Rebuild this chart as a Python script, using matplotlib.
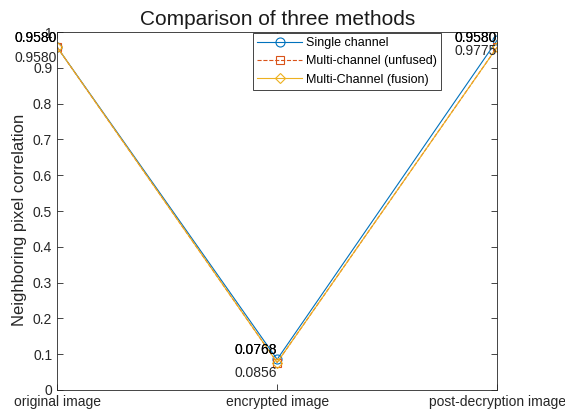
import numpy as np
import matplotlib
matplotlib.use('Agg')
import matplotlib.pyplot as plt

plt.rcParams['font.family'] = ['Liberation Sans', 'DejaVu Sans']

stages = ['original image', 'encrypted image', 'post-decryption image']
single = [0.9580, 0.0856, 0.9775]
multi_unfused = [0.9580, 0.0768, 0.9580]
multi_fusion = [0.9580, 0.0768, 0.9580]

# labels as they appear on the chart (upper one drawn twice, lower once)
upper_labels = ['0.9580', '0.0768', '0.9580']
lower_labels = ['0.9580', '0.0856', '0.9775']

x = np.arange(1, len(stages) + 1)

fig = plt.figure(figsize=(5.65, 4.13), dpi=100)
ax = fig.add_axes([0.101, 0.0557, 0.779, 0.8668])

ax.plot(x, single, '-o', color='#0072BD', lw=0.8, ms=6.5, mfc='none', mew=0.8, label='Single channel')
ax.plot(x, multi_unfused, '--s', color='#D95319', lw=0.8, ms=5.5, mfc='none', mew=0.8, label='Multi-channel (unfused)')
ax.plot(x, multi_fusion, '-D', color='#EDB120', lw=0.8, ms=5.5, mfc='none', mew=0.8, label='Multi-Channel (fusion)')

for i in range(len(x)):
    lo = min(single[i], multi_fusion[i])
    hi = max(single[i], multi_fusion[i])
    for _ in range(2):
        ax.text(x[i], (lo if i != 1 else hi) + 0.006, upper_labels[i], ha='right', va='bottom',
                fontsize=10, color='black', clip_on=False)
    ax.text(x[i], (hi if i != 1 else lo) - 0.01, lower_labels[i], ha='right', va='top',
            fontsize=10, color='#262626', clip_on=False)

ax.set_xlim(1, 3)
ax.set_ylim(0, 1)
ax.set_xticks(x)
ax.set_xticklabels(stages)
ax.set_yticks(np.arange(0, 1.01, 0.1))
ax.set_yticklabels(['0'] + ['%.1f' % v for v in np.arange(0.1, 0.95, 0.1)] + ['1'])
ax.tick_params(direction='in', top=True, right=True, length=4, width=0.6,
               labelsize=10, colors='#262626')
for s in ax.spines.values():
    s.set_linewidth(0.6)
    s.set_color('#262626')

ax.set_title('Comparison of three methods', fontsize=15, color='#1a1a1a', pad=5)
ax.set_ylabel('Neighboring pixel correlation', fontsize=12, color='#262626')
ax.yaxis.set_label_coords(-0.068, 0.475)

leg = ax.legend(loc='upper right', bbox_to_anchor=(0.872, 0.998), fontsize=9,
                fancybox=False, framealpha=1, edgecolor='#262626', borderpad=0.35,
                labelspacing=0.5, handlelength=3.6, handletextpad=0.25, borderaxespad=0)
leg.get_frame().set_linewidth(0.6)

fig.savefig('out.png', dpi=100)
